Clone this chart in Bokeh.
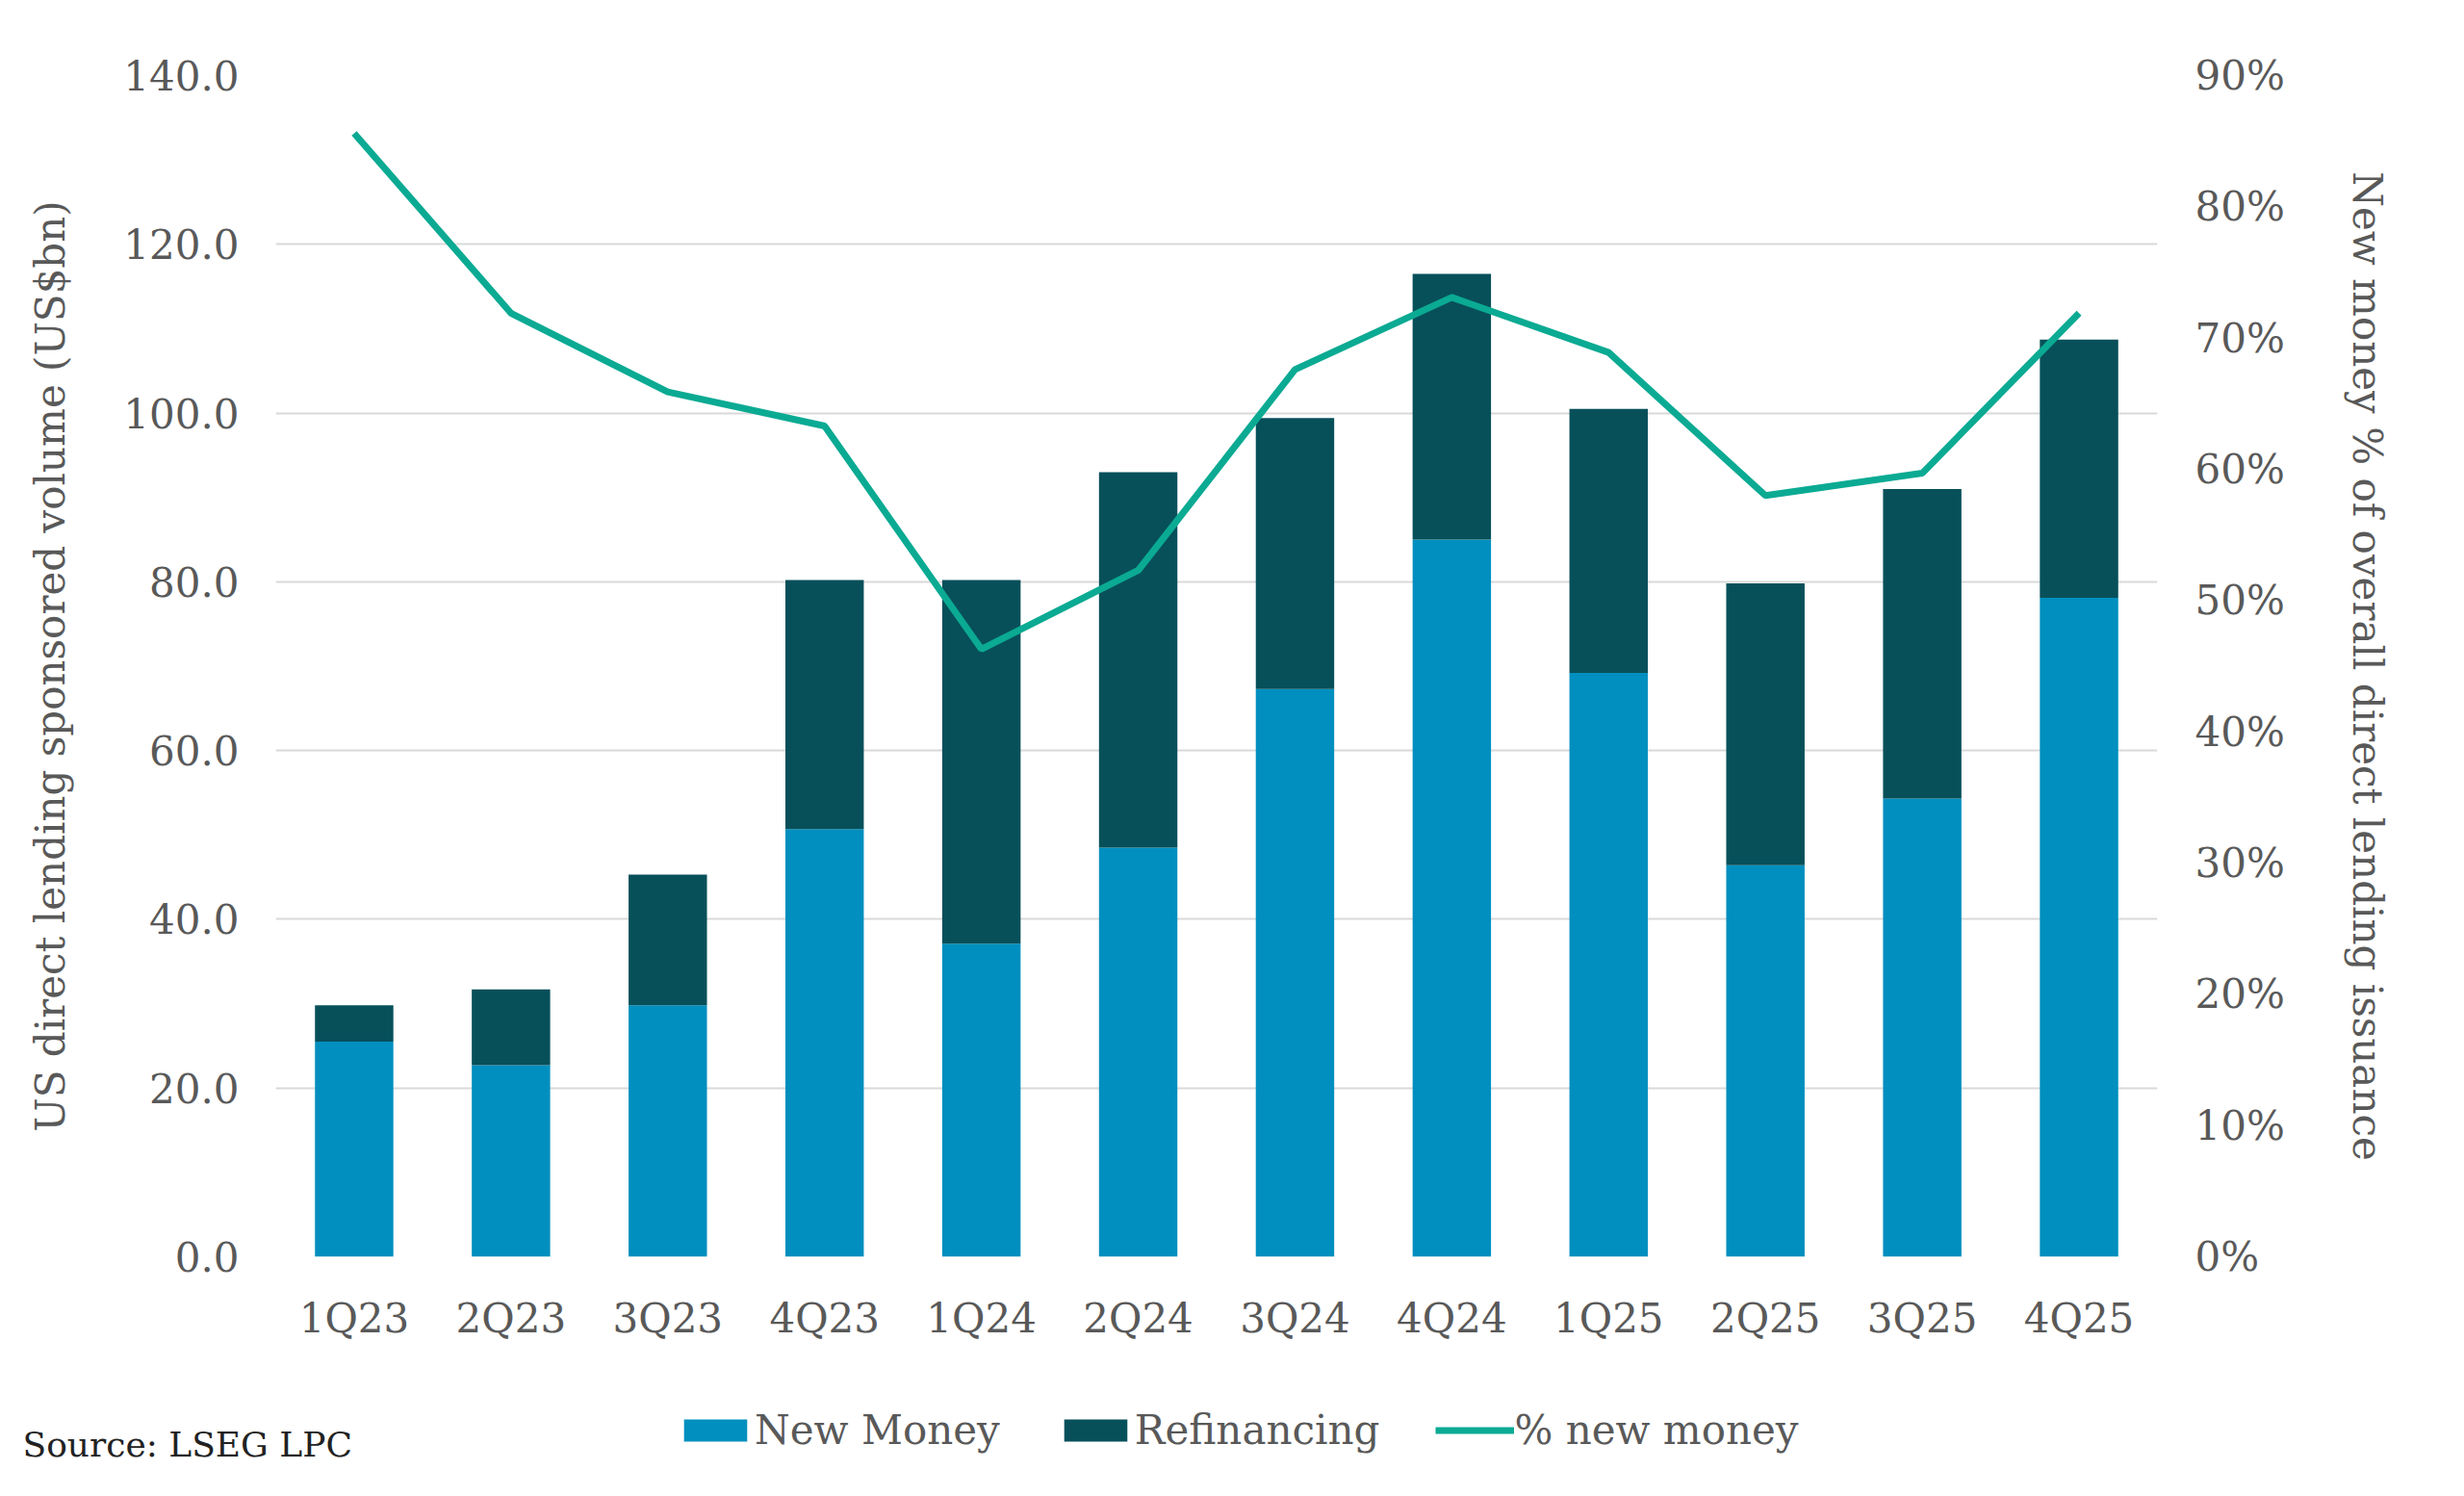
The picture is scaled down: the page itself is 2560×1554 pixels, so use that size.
from bokeh.plotting import figure
from bokeh.layouts import column, row
from bokeh.models import (Range1d, LinearAxis, FixedTicker, PrintfTickFormatter,
                          Legend, LegendItem, Label, ColumnDataSource)
from bokeh.embed import file_html
from bokeh.resources import INLINE

quarters = ["1Q23", "2Q23", "3Q23", "4Q23", "1Q24", "2Q24", "3Q24", "4Q24",
            "1Q25", "2Q25", "3Q25", "4Q25"]
new_money = [25.5, 22.7, 29.8, 50.7, 37.1, 48.5, 67.3, 85.0, 69.2, 46.4, 54.3, 78.1]
refinancing = [4.3, 9.0, 15.5, 29.5, 43.1, 44.5, 32.1, 31.5, 31.3, 33.4, 36.7, 30.6]
pct_new_money = [85.6, 71.9, 65.9, 63.3, 46.3, 52.3, 67.6, 73.1, 68.9, 58.0, 59.7, 71.9]

left_ticks = [0, 20, 40, 60, 80, 100, 120, 140]
right_ticks = [0, 10, 20, 30, 40, 50, 60, 70, 80, 90]

FONT = "DejaVu Serif"
TXT = "#595959"
FS = "42px"
C_NEW = "#008FBF"
C_REF = "#07505A"
C_LINE = "#0BAA93"

src = ColumnDataSource(dict(q=quarters, new=new_money, ref=refinancing, pct=pct_new_money))

p = figure(x_range=quarters, y_range=Range1d(0, 140), width=2544, height=1452,
           output_backend="svg", toolbar_location=None,
           min_border_left=286, min_border_right=303, min_border_top=78, min_border_bottom=147)
p.x_range.range_padding = 0
p.extra_y_ranges = {"pct": Range1d(0, 90)}
p.outline_line_color = None
p.background_fill_color = "white"

bars = p.vbar_stack(["new", "ref"], x="q", width=0.5, source=src,
                    color=[C_NEW, C_REF], line_color=None)
line = p.line(x="q", y="pct", source=src, y_range_name="pct",
              line_color=C_LINE, line_width=7)

ya = p.yaxis[0]
ya.ticker = FixedTicker(ticks=left_ticks)
ya.formatter = PrintfTickFormatter(format="%.1f")
ya.axis_label = "US direct lending sponsored volume (US$bn)"

ra = LinearAxis(y_range_name="pct", ticker=FixedTicker(ticks=right_ticks),
                formatter=PrintfTickFormatter(format="%d%%"),
                axis_label="New money % of overall direct lending issuance")
p.add_layout(ra, "right")

for ax in [ya, ra, p.xaxis[0]]:
    ax.axis_line_color = None
    ax.major_tick_line_color = None
    ax.minor_tick_line_color = None
    ax.major_label_text_font = FONT
    ax.major_label_text_font_size = FS
    ax.major_label_text_color = TXT
    ax.axis_label_text_font = FONT
    ax.axis_label_text_font_size = FS
    ax.axis_label_text_color = TXT
    ax.axis_label_text_font_style = "normal"

ya.major_label_standoff = 32
ya.axis_label_standoff = 48
ra.major_label_standoff = 33
ra.axis_label_standoff = 58
p.xaxis[0].major_label_standoff = 33

p.xgrid.grid_line_color = None
p.ygrid.grid_line_color = "#D9D9D9"
p.ygrid.grid_line_width = 2
p.ygrid.ticker = FixedTicker(ticks=left_ticks)


def footer_fig(w):
    f = figure(width=w, height=86, x_range=Range1d(0, 1), y_range=Range1d(0, 1),
               output_backend="svg", toolbar_location=None,
               min_border_left=0, min_border_right=0, min_border_top=0, min_border_bottom=0)
    f.axis.visible = False
    f.grid.visible = False
    f.outline_line_color = None
    return f


# source note
p_src = footer_fig(600)
src_label = Label(x=23, y=38, x_units="screen", y_units="screen",
                  text="Source: LSEG LPC", text_font=FONT, text_font_size="36px",
                  text_color="#222222", text_baseline="middle")
p_src.add_layout(src_label)

# legend
p_leg = footer_fig(1944)
lg_new = p_leg.vbar(x=[-10], top=[-10], width=0.1, color=C_NEW, line_color=None)
lg_ref = p_leg.vbar(x=[-10], top=[-10], width=0.1, color=C_REF, line_color=None)
lg_line = p_leg.line(x=[-10, -9], y=[-10, -10], line_color=C_LINE, line_width=7)
legend = Legend(items=[LegendItem(label="New Money", renderers=[lg_new]),
                       LegendItem(label="Refinancing", renderers=[lg_ref]),
                       LegendItem(label="% new money", renderers=[lg_line])],
                orientation="horizontal", location=(102, 28),
                label_text_font=FONT, label_text_font_size=FS, label_text_color=TXT,
                glyph_width=82, glyph_height=29, label_standoff=0, spacing=58,
                border_line_color=None, background_fill_alpha=0, padding=6, margin=0)
p_leg.add_layout(legend, "center")

layout = column(p, row(p_src, p_leg, spacing=0), spacing=0)
open("out.html", "w").write(file_html(layout, INLINE))
